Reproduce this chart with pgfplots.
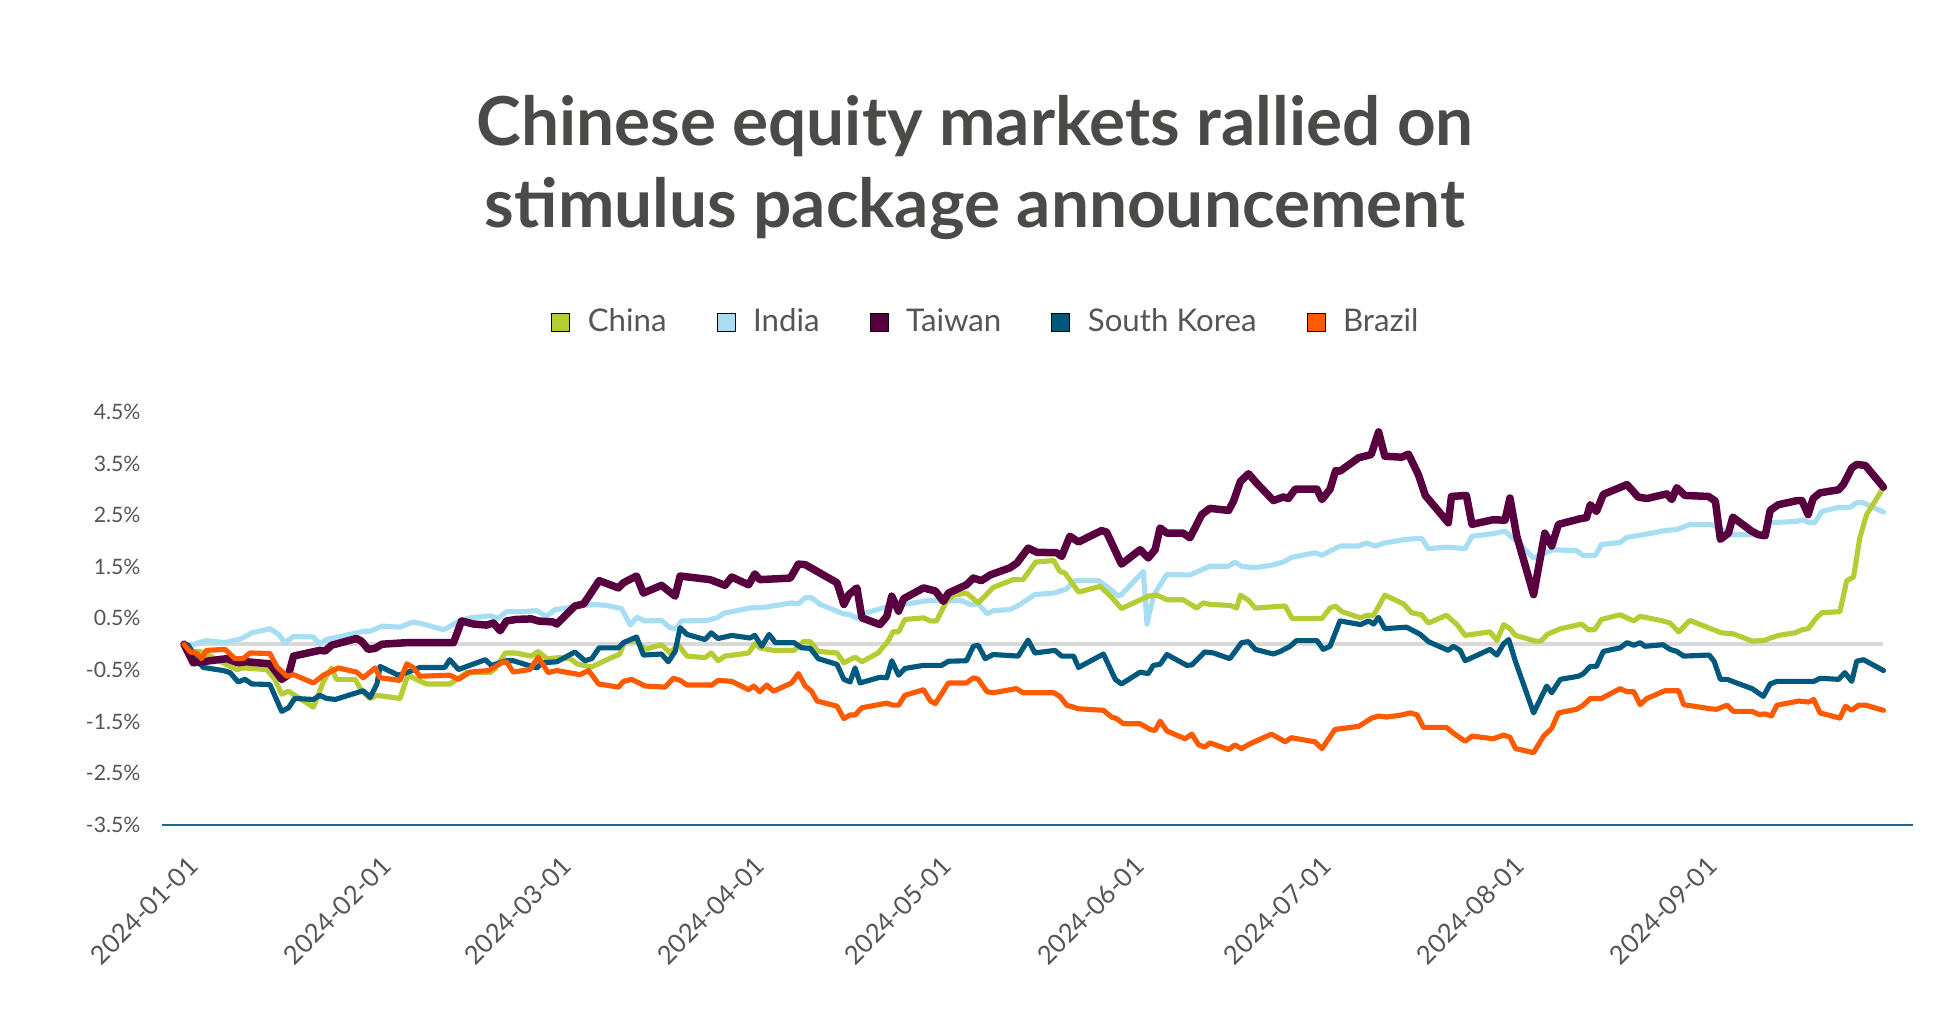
\documentclass[border=0pt]{standalone}
\usepackage{fontspec}
\setmainfont{Lato}
\usepackage{pgfplots}
\pgfplotsset{compat=1.18}

\definecolor{cchina}{HTML}{B5CC34}
\definecolor{cindia}{HTML}{A8DEF3}
\definecolor{ctaiwan}{HTML}{58003F}
\definecolor{ckorea}{HTML}{00587D}
\definecolor{cbrazil}{HTML}{FF5A00}
\definecolor{zerogray}{HTML}{D9D9D9}
\definecolor{axisblue}{HTML}{1D6A91}
\definecolor{titlegray}{HTML}{4A4A48}
\definecolor{tickgray}{HTML}{555555}

% cumulative return (%), x = days since 2024-01-01
\pgfplotstableread{
d v
0 0
1.5 -0.36
4.2 -0.32
6.9 -0.28
8.7 -0.36
10 -0.34
13.8 -0.38
15.7 -0.68
16.8 -0.59
17.6 -0.23
21.8 -0.12
22.7 -0.13
23.7 -0.02
27.7 0.11
28.5 0.06
29.6 -0.10
30.7 -0.08
31.8 0.0
35.8 0.03
43.3 0.03
44.6 0.45
46.5 0.39
48.6 0.37
49.7 0.41
50.8 0.26
51.8 0.45
53.4 0.48
55.8 0.49
56.9 0.45
59.3 0.43
59.9 0.39
62.8 0.74
64.2 0.78
66.7 1.23
69.8 1.09
70.6 1.19
72.7 1.32
73.8 0.99
76.7 1.14
78.9 0.93
79.7 1.32
84.5 1.25
86.9 1.14
88.0 1.30
90.7 1.15
91.7 1.36
92.5 1.25
97.4 1.28
98.7 1.55
99.8 1.54
104.9 1.19
106.0 0.77
106.8 0.96
108.1 1.09
108.9 0.51
111.8 0.38
112.9 0.54
113.7 0.93
114.8 0.64
115.6 0.88
118.8 1.09
120.7 1.03
122.0 0.83
122.8 0.99
125.7 1.15
126.8 1.28
128.1 1.23
129.5 1.34
132.7 1.48
133.8 1.57
135.6 1.86
137 1.78
140.2 1.77
141 1.70
142.3 2.09
143.7 1.98
147.4 2.20
148.2 2.17
150.6 1.55
153.6 1.83
154.9 1.67
156 1.83
156.8 2.25
157.9 2.15
160.5 2.15
161.6 2.06
163.5 2.51
164.8 2.63
167.8 2.59
168.6 2.77
169.7 3.15
171 3.30
172.3 3.12
175 2.78
176.6 2.85
177.4 2.82
178.5 3.0
182 3.0
182.8 2.80
184.1 3.0
185 3.36
185.7 3.35
188.7 3.61
190.7 3.67
191.9 4.11
192.9 3.64
195.6 3.62
196.7 3.68
198.3 3.28
199.4 2.88
203.1 2.35
203.6 2.86
206 2.88
206.9 2.32
210.3 2.41
212.2 2.40
213 2.83
214.1 2.09
216.8 0.96
218.6 2.15
219.7 1.90
220.8 2.32
224.3 2.43
225.3 2.45
225.9 2.70
226.9 2.57
228 2.90
231.8 3.09
233.6 2.85
235 2.82
238.2 2.91
239 2.80
239.8 3.03
241.1 2.88
244.9 2.86
246 2.77
246.8 2.03
248.1 2.15
248.8 2.46
251.8 2.19
252.9 2.12
254 2.10
254.8 2.59
256.1 2.70
259.1 2.78
259.9 2.78
260.9 2.51
261.7 2.82
262.8 2.93
265.8 2.99
266.6 3.10
267.9 3.41
268.7 3.48
270.1 3.46
273 3.04
}\taiwan

\pgfplotstableread{
d v
0 0
1.5 -0.02
2.3 0.03
3.6 0.07
6.6 0.03
9.3 0.11
10.9 0.22
13.8 0.30
15.2 0.19
16.2 0.03
17.6 0.15
20.8 0.14
21.8 0.01
22.9 0.09
27.7 0.22
28.8 0.25
29.9 0.25
31.8 0.35
34.7 0.33
36.8 0.43
38.4 0.39
41.7 0.28
44.3 0.45
45.9 0.51
49.2 0.55
50.5 0.50
51.8 0.63
54.5 0.63
56.7 0.65
58.2 0.54
59.6 0.67
62.5 0.72
65.8 0.77
67.9 0.75
70.3 0.69
71.7 0.37
72.7 0.52
74.1 0.45
76.7 0.46
78.1 0.32
79.1 0.30
79.9 0.45
84.0 0.46
85.6 0.51
86.9 0.61
88.0 0.63
90.9 0.70
93.6 0.72
97.6 0.80
98.7 0.78
99.8 0.90
100.8 0.90
102.2 0.77
105.9 0.59
107.0 0.57
108.6 0.48
109.7 0.61
113.4 0.74
116.1 0.78
119.9 0.85
122.0 0.83
124.7 0.85
126.3 0.77
127.6 0.78
129.0 0.59
130.0 0.65
132.7 0.67
134.3 0.77
136.7 0.96
139.7 0.99
141.8 1.07
143.1 1.23
146.9 1.23
148.2 1.12
150.1 0.93
150.6 0.96
154.1 1.41
154.7 0.39
155.7 0.93
156.5 1.09
157.9 1.35
161.6 1.34
164.8 1.51
167.8 1.51
168.8 1.59
169.9 1.51
171.8 1.48
174.7 1.53
176.6 1.59
177.9 1.68
181.7 1.77
182.7 1.72
185.7 1.90
188.6 1.90
190.0 1.96
191.3 1.90
192.9 1.96
196.2 2.03
198.8 2.05
199.9 1.85
202.8 1.88
205.8 1.85
206.9 2.09
210.3 2.14
212.2 2.19
214.6 1.93
216.8 1.67
220.0 1.83
223.7 1.81
224.7 1.72
226.7 1.72
227.7 1.93
230.7 1.97
231.8 2.07
234.4 2.12
237.9 2.20
239.8 2.22
241.9 2.32
245.2 2.32
246.2 2.28
248.5 2.12
254.0 2.12
254.8 2.35
259.1 2.38
260.2 2.41
261.0 2.35
262.0 2.36
263.1 2.57
265.8 2.65
267.6 2.65
268.7 2.74
269.7 2.74
273.0 2.56
}\india

\pgfplotstableread{
d v
0 0
1.5 -0.14
2.6 -0.14
4.2 -0.23
6.9 -0.40
8.5 -0.49
9.5 -0.46
13.3 -0.49
14.6 -0.68
15.7 -0.97
16.8 -0.91
20.8 -1.22
22.4 -0.72
23.7 -0.46
24.5 -0.68
27.5 -0.68
28.5 -0.90
29.9 -1.05
31.0 -0.99
34.7 -1.05
36.0 -0.59
36.8 -0.65
38.9 -0.77
42.7 -0.77
44.1 -0.66
45.4 -0.55
49.2 -0.55
50.0 -0.47
51.6 -0.17
53.2 -0.17
55.8 -0.23
56.9 -0.14
58.3 -0.28
60.4 -0.26
62.0 -0.28
63.3 -0.39
65.5 -0.44
67.4 -0.33
70.0 -0.19
70.8 0.05
72.7 0.06
74.1 -0.10
76.7 -0.01
78.1 -0.17
79.4 -0.01
80.8 -0.23
83.7 -0.26
84.7 -0.17
85.8 -0.32
86.9 -0.23
90.7 -0.17
91.7 0.01
92.5 -0.07
94.7 -0.12
98.0 -0.12
99.5 0.05
100.6 0.05
101.9 -0.14
104.9 -0.17
106.0 -0.36
107.8 -0.25
108.9 -0.34
111.5 -0.17
113.1 0.06
113.9 0.24
114.8 0.24
115.8 0.48
118.8 0.51
119.9 0.45
120.9 0.45
122.6 0.86
123.7 0.95
125.7 0.99
127.6 0.80
130.0 1.10
133.2 1.25
134.8 1.25
136.8 1.59
139.7 1.62
140.7 1.41
141.5 1.38
143.7 1.01
147.2 1.12
149.0 0.91
150.6 0.69
154.9 0.93
156.3 0.95
157.9 0.86
160.5 0.86
162.7 0.70
163.7 0.80
164.8 0.77
168.1 0.75
169.1 0.70
169.7 0.95
171.0 0.85
172.1 0.70
176.9 0.74
178.0 0.50
182.8 0.50
184.1 0.70
185.0 0.74
186.0 0.63
189.0 0.51
190.0 0.56
191.1 0.56
192.9 0.95
195.9 0.78
197.2 0.61
198.8 0.57
199.9 0.41
202.8 0.56
204.5 0.38
205.8 0.17
209.8 0.24
210.9 0.07
212.0 0.38
213.0 0.30
213.9 0.17
217.1 0.06
218.0 0.06
219.0 0.19
221.1 0.30
224.5 0.39
225.6 0.28
226.6 0.28
227.7 0.48
230.7 0.57
232.9 0.45
233.9 0.54
237.6 0.45
238.7 0.41
240.1 0.24
241.9 0.46
245.7 0.28
247.0 0.22
248.9 0.20
251.9 0.06
253.7 0.07
256.1 0.17
258.8 0.22
259.9 0.28
260.9 0.30
262.3 0.52
263.1 0.61
266.0 0.63
267.1 1.23
268.2 1.30
269.2 2.06
270.3 2.51
273.0 3.03
}\china

\pgfplotstableread{
d v
0 0
0.7 -0.02
2.1 -0.32
3.1 -0.45
6.3 -0.51
7.4 -0.55
8.7 -0.73
9.8 -0.68
10.9 -0.77
13.8 -0.78
15.7 -1.30
16.8 -1.23
17.8 -1.05
20.8 -1.07
21.8 -0.99
22.9 -1.05
24.3 -1.07
28.8 -0.90
29.9 -1.03
31.0 -0.77
31.5 -0.43
34.4 -0.60
36.0 -0.54
37.9 -0.45
41.9 -0.45
42.7 -0.30
44.1 -0.49
45.9 -0.41
48.4 -0.30
49.4 -0.41
51.8 -0.32
52.9 -0.32
56.7 -0.46
57.5 -0.36
59.9 -0.34
62.8 -0.15
64.4 -0.32
65.5 -0.28
66.7 -0.07
69.8 -0.07
70.6 0.03
72.7 0.14
73.8 -0.21
76.7 -0.19
77.8 -0.34
78.9 -0.14
79.7 0.32
80.8 0.19
83.7 0.09
84.7 0.22
85.8 0.11
88.0 0.17
90.9 0.12
91.7 0.17
92.8 -0.04
94.0 0.19
95.0 0.03
98.0 0.03
99.2 -0.07
100.6 -0.08
101.9 -0.28
104.9 -0.39
106.0 -0.68
107.0 -0.73
107.8 -0.46
108.6 -0.75
111.8 -0.64
112.9 -0.65
113.7 -0.32
114.8 -0.60
115.8 -0.47
118.8 -0.41
121.7 -0.41
122.8 -0.33
125.7 -0.32
126.8 -0.04
127.6 -0.02
128.7 -0.28
130.0 -0.20
134.0 -0.23
135.6 0.08
136.7 -0.17
139.9 -0.12
141.0 -0.23
142.9 -0.23
143.7 -0.45
147.7 -0.19
149.6 -0.68
150.6 -0.77
153.6 -0.54
154.9 -0.57
155.7 -0.41
156.8 -0.39
157.9 -0.20
161.1 -0.41
161.9 -0.40
164.0 -0.15
165.4 -0.17
168.0 -0.28
169.9 0.03
171.0 0.05
172.1 -0.10
175.0 -0.19
176.1 -0.14
177.7 -0.04
178.7 0.07
182.0 0.07
183.0 -0.10
184.1 -0.04
185.7 0.45
189.0 0.38
190.3 0.45
191.1 0.39
191.9 0.52
192.9 0.30
196.4 0.33
198.6 0.19
199.9 0.05
203.1 -0.12
203.9 -0.04
205.0 -0.12
205.8 -0.32
209.8 -0.10
210.9 -0.21
212.0 0.01
212.8 0.09
213.9 -0.34
216.8 -1.33
218.9 -0.81
219.7 -0.94
221.1 -0.68
224.0 -0.62
224.8 -0.57
225.9 -0.43
226.9 -0.43
228.0 -0.14
230.7 -0.07
231.8 0.03
232.9 -0.02
233.9 0.03
234.7 -0.04
237.6 -0.01
238.7 -0.10
239.8 -0.14
240.9 -0.23
245.0 -0.21
245.8 -0.33
246.8 -0.68
247.9 -0.68
249.4 -0.75
251.9 -0.86
253.7 -1.01
254.8 -0.77
255.9 -0.72
261.8 -0.72
262.8 -0.66
265.8 -0.68
266.8 -0.55
267.9 -0.72
268.7 -0.33
269.8 -0.30
273.0 -0.51
}\korea

\pgfplotstableread{
d v
0 0
1.0 -0.15
2.0 -0.17
2.8 -0.28
3.6 -0.12
6.6 -0.10
8.2 -0.28
9.5 -0.28
10.6 -0.17
13.8 -0.18
14.9 -0.43
16.5 -0.62
17.6 -0.59
20.8 -0.75
22.4 -0.60
24.8 -0.46
27.7 -0.54
28.8 -0.65
30.7 -0.46
31.5 -0.65
34.7 -0.70
35.8 -0.38
36.8 -0.45
37.9 -0.62
42.7 -0.60
44.1 -0.68
45.9 -0.54
48.9 -0.51
49.7 -0.46
51.0 -0.36
51.8 -0.34
52.9 -0.54
55.6 -0.49
56.9 -0.25
58.5 -0.55
59.9 -0.51
63.6 -0.59
65.0 -0.51
66.6 -0.77
69.8 -0.83
70.6 -0.72
71.9 -0.68
74.1 -0.81
77.3 -0.83
78.6 -0.66
79.7 -0.70
80.8 -0.79
84.8 -0.79
85.8 -0.70
88.0 -0.72
90.7 -0.88
91.5 -0.81
92.5 -0.92
93.6 -0.79
94.7 -0.91
97.6 -0.75
98.7 -0.57
99.8 -0.81
100.8 -0.91
101.7 -1.10
104.9 -1.20
106.0 -1.44
107.0 -1.37
107.8 -1.37
108.9 -1.23
112.9 -1.14
113.9 -1.18
114.8 -1.18
115.8 -0.99
118.8 -0.88
119.9 -1.10
120.7 -1.15
122.8 -0.75
125.7 -0.75
126.8 -0.65
127.6 -0.68
129.0 -0.92
130.0 -0.94
133.7 -0.86
134.8 -0.94
139.7 -0.94
140.7 -1.01
141.8 -1.18
143.7 -1.25
147.7 -1.28
149.0 -1.41
149.8 -1.44
150.9 -1.54
153.6 -1.54
155.2 -1.65
156.0 -1.67
156.8 -1.49
157.9 -1.68
160.8 -1.83
161.9 -1.74
163.0 -1.95
164.0 -1.99
164.8 -1.91
167.8 -2.04
168.8 -1.95
169.9 -2.02
171.2 -1.93
174.7 -1.74
176.9 -1.89
177.9 -1.81
181.7 -1.89
182.8 -2.02
184.9 -1.65
188.7 -1.59
190.8 -1.43
191.9 -1.39
193.2 -1.41
195.6 -1.37
197.0 -1.33
198.1 -1.37
199.1 -1.61
202.8 -1.61
203.9 -1.72
205.8 -1.88
206.9 -1.78
210.3 -1.83
212.0 -1.76
213.0 -1.80
213.9 -2.02
216.8 -2.10
218.4 -1.78
219.7 -1.63
220.8 -1.33
223.7 -1.26
224.8 -1.18
225.9 -1.05
227.7 -1.05
230.7 -0.86
231.8 -0.92
232.9 -0.92
233.9 -1.17
235.0 -1.05
237.9 -0.90
240.1 -0.90
240.9 -1.17
245.2 -1.25
246.2 -1.26
247.9 -1.18
248.9 -1.30
251.9 -1.30
253.0 -1.36
254.0 -1.35
255.0 -1.39
255.9 -1.18
259.4 -1.10
261.0 -1.12
261.8 -1.07
262.8 -1.33
266.0 -1.43
266.9 -1.20
267.9 -1.28
269.0 -1.18
270.1 -1.18
273.0 -1.28
}\brazil

\begin{document}
\begin{tikzpicture}
\begin{axis}[
    scale only axis,
    width=700.4pt, height=165.3pt,
    xmin=-3.53, xmax=277.75,
    ymin=-3.5, ymax=4.5,
    axis x line*=bottom, axis y line*=left,
    x axis line style={draw=axisblue, line width=0.8pt, -},
    y axis line style={draw=none},
    major tick length=0pt,
    xtick={0,31,60,91,121,152,182,213,244},
    xticklabels={2024-01-01,2024-02-01,2024-03-01,2024-04-01,2024-05-01,2024-06-01,2024-07-01,2024-08-01,2024-09-01},
    ytick={-3.5,-2.5,-1.5,-0.5,0.5,1.5,2.5,3.5,4.5},
    /pgf/number format/assume math mode=true,
    yticklabel={\pgfmathprintnumber[fixed,fixed zerofill,precision=1]{\tick}\%},
    yticklabel style={font=\fontsize{8.5}{10}\selectfont, text=tickgray, anchor=east, inner sep=0pt, xshift=-8.4pt},
    xticklabel style={font=\fontsize{10.3}{12}\selectfont, text=tickgray, rotate=45, anchor=north east, inner sep=0pt, yshift=-9pt, xshift=-7.5pt},
    every axis plot/.append style={line join=round, line cap=round},
    legend image code/.code={\fill[#1] (0pt,-3.6pt) rectangle (7.2pt,3.6pt);},
    legend columns=5,
    legend style={at={(0.4714,1)}, anchor=center, yshift=35.9pt, draw=none, fill=none,
      font=\fontsize{12.5}{14}\selectfont, text=tickgray, inner sep=0pt,
      /tikz/every odd column/.append style={column sep=5pt},
      /tikz/every even column/.append style={column sep=18pt}},
]
\addlegendimage{fill=cchina}\addlegendentry{China}
\addlegendimage{fill=cindia}\addlegendentry{India}
\addlegendimage{fill=ctaiwan}\addlegendentry{Taiwan}
\addlegendimage{fill=ckorea}\addlegendentry{South Korea}
\addlegendimage{fill=cbrazil}\addlegendentry{Brazil}

\addplot[forget plot, zerogray, line width=1.6pt, line cap=butt] coordinates {(0,0) (273,0)};
\addplot[forget plot, cindia, line width=2.05pt] table[x=d, y=v] {\india};
\addplot[forget plot, cchina, line width=2.05pt] table[x=d, y=v] {\china};
\addplot[forget plot, ckorea, line width=2.05pt] table[x=d, y=v] {\korea};
\addplot[forget plot, ctaiwan, line width=3pt] table[x=d, y=v] {\taiwan};
\addplot[forget plot, cbrazil, line width=2.05pt] table[x=d, y=v] {\brazil};

\coordinate (pll) at (rel axis cs:0,0);
\coordinate (pur) at (rel axis cs:1,1);
\coordinate (ttl) at (rel axis cs:0.4643,1);
\end{axis}
\node[anchor=base, font=\fontsize{27}{30}\selectfont\bfseries, text=titlegray, inner sep=0pt]
  at ([yshift=106.4pt]ttl) {Chinese equity markets rallied on};
\node[anchor=base, font=\fontsize{27}{30}\selectfont\bfseries, text=titlegray, inner sep=0pt]
  at ([yshift=73.6pt]ttl) {stimulus package announcement};
\pgfresetboundingbox
\path[use as bounding box] ([xshift=-64.8pt,yshift=-76.4pt]pll) rectangle ([xshift=15.6pt,yshift=164.7pt]pur);
\end{tikzpicture}
\end{document}
